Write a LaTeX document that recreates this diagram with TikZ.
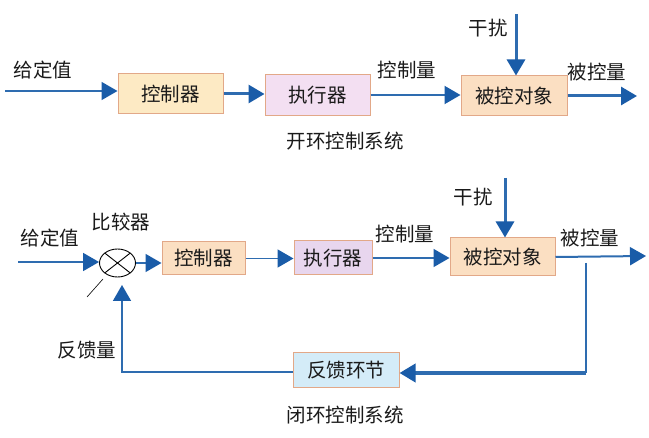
\documentclass[tikz,border=0pt]{standalone}
\usepackage{fontspec}
\setmainfont{Noto Sans CJK SC}
\usetikzlibrary{arrows.meta,shapes.geometric,calc}
\definecolor{lineblue}{HTML}{2E6CB0}
\definecolor{headblue}{HTML}{1A5CA8}
\definecolor{boxedge}{HTML}{E2A888}
\definecolor{fillA}{HTML}{FDEAC4}
\definecolor{fillB}{HTML}{F3DFF2}
\definecolor{fillC}{HTML}{FBDFC2}
\definecolor{fillD}{HTML}{E8D6EE}
\definecolor{fillE}{HTML}{D4ECF8}
\definecolor{txt}{HTML}{1A1A1A}
\tikzset{
  blk/.style={draw=boxedge, line width=1pt, inner sep=0pt, font=\fontsize{19.5}{19.5}\selectfont, text=txt},
  lbl/.style={font=\fontsize{19.5}{19.5}\selectfont, text=txt, inner sep=0pt},
  arr/.style={draw=lineblue, line width=1.6pt, -{Triangle[length=16pt,width=18pt,color=headblue]}},
  thickarr/.style={arr, line width=3pt},
  plain/.style={draw=lineblue, line width=1.6pt},
}
\begin{document}
\begin{tikzpicture}[x=1pt,y=-1pt]
\fill[white] (0,0) rectangle (649,438);
\useasboundingbox (0,0) rectangle (649,438);

% ---------- open loop ----------
\node[blk, fill=fillA, minimum width=105pt, minimum height=40pt] (c1) at (170.5,94) {控制器};
\node[blk, fill=fillB, minimum width=105pt, minimum height=41pt] (e1) at (317.5,95) {执行器};
\node[blk, fill=fillC, minimum width=106pt, minimum height=40pt] (p1) at (514,96) {被控对象};
\coordinate (in1) at (5,91);
\coordinate (d1) at (516,14);
\coordinate (out1) at (637,96);

\draw[arr] (in1) -- (in1 -| c1.west);
\draw[thickarr] (c1.east) -- (c1.east -| e1.west);
\draw[arr, line width=2pt] (e1.east) -- (e1.east -| p1.west);
\draw[thickarr] (d1) -- (d1 |- p1.north);
\draw[thickarr] (p1.east) -- (out1);

\node[lbl] (g1) at (43,70) {给定值};
\node[lbl] (u1) at (407,70) {控制量};
\node[lbl] (r1) at (488,28) {干扰};
\node[lbl] (y1) at (597,72) {被控量};
\node[lbl] (t1) at (345,141) {开环控制系统};

% ---------- closed loop ----------
\node[draw=black, line width=0.9pt, ellipse, minimum width=36pt, minimum height=28pt, inner sep=0pt] (cmp) at (117.5,263) {};
\draw[black, line width=0.9pt] ($(cmp.center)+(-12.7,-9.9)$) -- ($(cmp.center)+(12.7,9.9)$);
\draw[black, line width=0.9pt] ($(cmp.center)+(-12.7,9.9)$) -- ($(cmp.center)+(12.7,-9.9)$);

\node[blk, fill=fillC, minimum width=83pt, minimum height=33pt] (c2) at (203.5,258.5) {控制器};
\node[blk, fill=fillD, minimum width=78pt, minimum height=34pt] (e2) at (333,258) {执行器};
\node[blk, fill=fillC, minimum width=105pt, minimum height=38pt] (p2) at (502.5,257) {被控对象};
\node[blk, fill=fillE, minimum width=106pt, minimum height=35pt] (fbk) at (346,370.5) {反馈环节};

\coordinate (in2) at (18,262);
\coordinate (d2) at (505,178);
\coordinate (out2) at (646,256);
\coordinate (fb1) at (586,263);
\coordinate (fb2) at (586,373);
\coordinate (fbc) at (122,372);
\coordinate (fbtip) at (122,285);
\coordinate (tk1) at (87,297);
\coordinate (tk2) at (103,279);

\draw[arr] (in2) -- (in2 -| cmp.west);
\draw[arr] (cmp.east) -- (cmp.east -| c2.west);
\draw[arr] (c2.east) -- (c2.east -| e2.west);
\draw[arr] (e2.east) -- (e2.east -| p2.west);
\draw[thickarr] (d2) -- (d2 |- p2.north);
\draw[arr, line width=2pt] (p2.east) -- (out2);
\draw[plain] (fb1) -- (fb2);
\draw[thickarr, line width=3.5pt] (fb2) -- (fb2 -| fbk.east);
\draw[arr] (fbk.west |- fbc) -- (fbc) -- (fbtip);
\draw[black, line width=0.6pt] (tk1) -- (tk2);

\node[lbl] (g2) at (50,238) {给定值};
\node[lbl] (cm) at (121,222) {比较器};
\node[lbl] (u2) at (405,234) {控制量};
\node[lbl] (r2) at (473,197) {干扰};
\node[lbl] (y2) at (590,238) {被控量};
\node[lbl] (fq) at (87,350) {反馈量};
\node[lbl] (t2) at (345,415) {闭环控制系统};
\end{tikzpicture}
\end{document}
